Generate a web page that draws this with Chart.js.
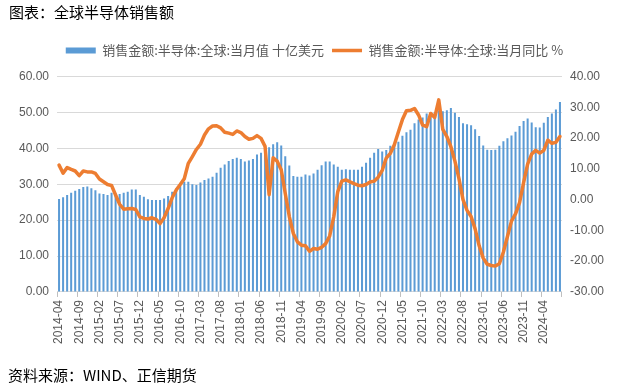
<!DOCTYPE html>
<html>
<head>
<meta charset="utf-8">
<script src="https://cdn.jsdelivr.net/npm/chart.js@4.4.1/dist/chart.umd.min.js"></script>
<style>
  html, body { margin: 0; padding: 0; background: #ffffff; }
  #wrap { position: relative; width: 630px; height: 391px; overflow: hidden; background: #ffffff; }
  #title { position: absolute; left: 9px; top: 4px; font: 15px/16px "Noto Sans CJK SC", sans-serif; color: #000; white-space: nowrap; }
  #source { position: absolute; left: 8px; top: 367px; font: 15px/16px "Noto Sans CJK SC", sans-serif; color: #000; white-space: nowrap; }
  #c { position: absolute; left: 0; top: 0; }
</style>
</head>
<body>
<div id="wrap">
  <canvas id="c" width="630" height="391"></canvas>
  <div id="title">图表：全球半导体销售额</div>
  <div id="source">资料来源：WIND、正信期货</div>
</div>
<script>
const months = [
  '2014-04','2014-05','2014-06','2014-07','2014-08','2014-09','2014-10','2014-11','2014-12',
  '2015-01','2015-02','2015-03','2015-04','2015-05','2015-06','2015-07','2015-08','2015-09','2015-10','2015-11','2015-12',
  '2016-01','2016-02','2016-03','2016-04','2016-05','2016-06','2016-07','2016-08','2016-09','2016-10','2016-11','2016-12',
  '2017-01','2017-02','2017-03','2017-04','2017-05','2017-06','2017-07','2017-08','2017-09','2017-10','2017-11','2017-12',
  '2018-01','2018-02','2018-03','2018-04','2018-05','2018-06','2018-07','2018-08','2018-09','2018-10','2018-11','2018-12',
  '2019-01','2019-02','2019-03','2019-04','2019-05','2019-06','2019-07','2019-08','2019-09','2019-10','2019-11','2019-12',
  '2020-01','2020-02','2020-03','2020-04','2020-05','2020-06','2020-07','2020-08','2020-09','2020-10','2020-11','2020-12',
  '2021-01','2021-02','2021-03','2021-04','2021-05','2021-06','2021-07','2021-08','2021-09','2021-10','2021-11','2021-12',
  '2022-01','2022-02','2022-03','2022-04','2022-05','2022-06','2022-07','2022-08','2022-09','2022-10','2022-11','2022-12',
  '2023-01','2023-02','2023-03','2023-04','2023-05','2023-06','2023-07','2023-08','2023-09','2023-10','2023-11','2023-12',
  '2024-01','2024-02','2024-03','2024-04','2024-05','2024-06','2024-07','2024-08'
];

// 销售金额:半导体:全球:当月值 (十亿美元)
const salesValue = [
  25.9, 26.4, 27.0, 27.6, 28.2, 28.7, 29.2, 29.4, 28.9,
  28.3, 27.4, 27.3, 27.0, 27.6, 27.4, 27.3, 27.6, 27.9, 28.5, 28.5, 27.0,
  26.5, 25.8, 25.6, 25.6, 25.6, 26.0, 26.7, 27.9, 28.8, 29.6, 30.7, 30.7,
  30.0, 29.8, 30.5, 31.2, 31.6, 32.1, 33.2, 34.6, 35.5, 36.5, 37.0, 37.4,
  37.0, 36.3, 36.6, 37.0, 38.3, 38.8, 39.5, 40.3, 41.1, 41.7, 40.8, 37.8,
  35.2, 32.3, 32.1, 32.1, 32.7, 32.4, 33.0, 34.0, 35.3, 36.3, 36.3, 35.5,
  34.9, 34.0, 34.2, 34.0, 34.0, 34.0, 34.9, 36.0, 37.4, 38.8, 39.8, 39.1,
  39.5, 40.7, 41.4, 41.8, 43.5, 44.5, 45.2, 47.0, 48.0, 48.6, 49.7, 50.0,
  50.0, 50.6, 50.3, 50.6, 51.2, 49.9, 48.7, 47.0, 46.7, 46.4, 45.3, 43.4,
  40.8, 39.6, 39.5, 39.6, 40.7, 42.0, 42.8, 43.6, 44.6, 46.2, 47.6, 48.3,
  47.2, 45.9, 45.8, 47.1, 48.7, 49.7, 50.8, 52.9
];

// 销售金额:半导体:全球:当月同比 (%)
const salesYoY = [
  11.2, 8.6, 10.4, 9.8, 9.3, 7.8, 9.3, 9.0, 9.0,
  8.5, 6.7, 5.8, 4.9, 4.6, 1.5, -1.5, -3.1, -3.0, -2.9, -3.2, -5.6,
  -6.1, -6.3, -5.9, -6.4, -7.8, -5.9, -2.9, 0.6, 3.1, 4.9, 6.8, 11.8,
  14.0, 16.3, 18.0, 21.0, 23.0, 23.9, 24.0, 23.3, 21.9, 21.6, 21.2, 22.3,
  21.8, 20.5, 19.6, 19.9, 20.8, 19.9, 17.3, 1.6, 13.6, 12.5, 9.7, 2.0,
  -5.5, -11.0, -13.7, -14.8, -15.0, -16.8, -15.9, -16.1, -15.5, -14.3, -11.8, -5.6,
  2.6, 6.0, 6.4, 5.8, 5.2, 4.7, 4.5, 4.9, 5.7, 6.0, 7.3, 9.5,
  13.5, 15.0, 17.8, 22.0, 26.0, 28.9, 29.0, 29.6, 27.5, 24.2, 23.7, 28.0,
  26.7, 32.4, 22.8, 20.5, 17.2, 12.5, 6.8, 0.0, -3.5, -5.5, -9.5, -15.0,
  -19.0, -21.0, -21.4, -21.6, -20.8, -17.0, -12.0, -7.0, -4.6, -1.0, 5.5, 11.5,
  14.8, 16.0, 15.1, 16.0, 19.3, 18.3, 18.6, 20.5
];

const tickLabels = [
  '2014-04','2014-09','2015-02','2015-07','2015-12','2016-05','2016-10','2017-03','2017-08',
  '2018-01','2018-06','2018-11','2019-04','2019-09','2020-02','2020-07','2020-12','2021-05',
  '2021-10','2022-03','2022-08','2023-01','2023-06','2023-11','2024-04'
];

const seriesNames = ['销售金额:半导体:全球:当月值 十亿美元', '销售金额:半导体:全球:当月同比 %'];

const BAR_COLOR = '#5B9BD5';
const LINE_COLOR = '#ED7D31';
const AXIS_TEXT = '#595959';
const NUM_FONT = '"Liberation Sans", Arial, sans-serif';
const CJK_FONT = '"Noto Sans CJK SC", sans-serif';

const legendTweak = {
  id: 'legendTweak',
  afterInit(chart) {
    const lg = chart.legend;
    if (lg && !lg._tweaked) {
      const origFit = lg.fit;
      lg.fit = function () { origFit.call(this); this.height += 9.5; };
      lg._tweaked = true;
    }
  },
  afterLayout(chart) {
    const lg = chart.legend;
    if (lg) { lg.left += 3; lg.right += 3; }
  }
};

new Chart(document.getElementById('c'), {
  data: {
    labels: months,
    datasets: [
      {
        type: 'bar',
        label: seriesNames[0],
        data: salesValue,
        backgroundColor: BAR_COLOR,
        borderWidth: 0,
        barPercentage: 0.5,
        categoryPercentage: 1.0,
        yAxisID: 'y',
        order: 1
      },
      {
        type: 'line',
        label: seriesNames[1],
        data: salesYoY,
        borderColor: LINE_COLOR,
        backgroundColor: LINE_COLOR,
        borderWidth: 3.5,
        pointRadius: 0,
        tension: 0,
        borderJoinStyle: 'round',
        borderCapStyle: 'round',
        yAxisID: 'y1',
        order: 0
      }
    ]
  },
  options: {
    responsive: false,
    animation: false,
    events: [],
    layout: { padding: { left: 11, right: 18, top: 36, bottom: 44 } },
    plugins: {
      tooltip: { enabled: false },
      title: { display: false },
      legend: {
        display: true,
        position: 'top',
        align: 'center',
        labels: {
          usePointStyle: true,
          pointStyleWidth: 30,
          boxHeight: 6,
          padding: 8,
          color: AXIS_TEXT,
          font: { family: CJK_FONT, size: 13 },
          generateLabels: () => [
            { text: seriesNames[0], fillStyle: BAR_COLOR, strokeStyle: BAR_COLOR, lineWidth: 0, pointStyle: 'rect', datasetIndex: 0, hidden: false, fontColor: AXIS_TEXT },
            { text: seriesNames[1], fillStyle: LINE_COLOR, strokeStyle: LINE_COLOR, lineWidth: 3.5, pointStyle: 'line', datasetIndex: 1, hidden: false, fontColor: AXIS_TEXT }
          ]
        }
      }
    },
    scales: {
      x: {
        type: 'category',
        offset: true,
        grid: {
          offset: true,
          drawOnChartArea: false,
          drawTicks: true,
          tickLength: 5,
          color: (ctx) => {
            if (ctx.type !== 'tick') return '#BFBFBF';
            return tickLabels.includes(months[ctx.index]) ? '#BFBFBF' : 'rgba(0,0,0,0)';
          }
        },
        border: { display: true, color: '#D9D9D9', width: 1 },
        ticks: {
          autoSkip: false,
          minRotation: 90,
          maxRotation: 90,
          padding: 3,
          color: AXIS_TEXT,
          font: { family: NUM_FONT, size: 12 },
          callback: function (value, index) {
            const lab = months[index];
            return tickLabels.includes(lab) ? lab : '';
          }
        }
      },
      y: {
        position: 'left',
        min: 0,
        max: 60,
        grid: { color: '#D9D9D9', drawTicks: false, lineWidth: 1 },
        border: { display: false },
        ticks: {
          stepSize: 10,
          padding: 8,
          color: AXIS_TEXT,
          font: { family: NUM_FONT, size: 12 },
          callback: (v) => Number(v).toFixed(2)
        }
      },
      y1: {
        position: 'right',
        min: -30,
        max: 40,
        grid: { display: false, drawTicks: false },
        border: { display: false },
        ticks: {
          stepSize: 10,
          padding: 8,
          color: AXIS_TEXT,
          font: { family: NUM_FONT, size: 12 },
          callback: (v) => Number(v).toFixed(2)
        }
      }
    }
  },
  plugins: [legendTweak]
});
</script>
</body>
</html>
